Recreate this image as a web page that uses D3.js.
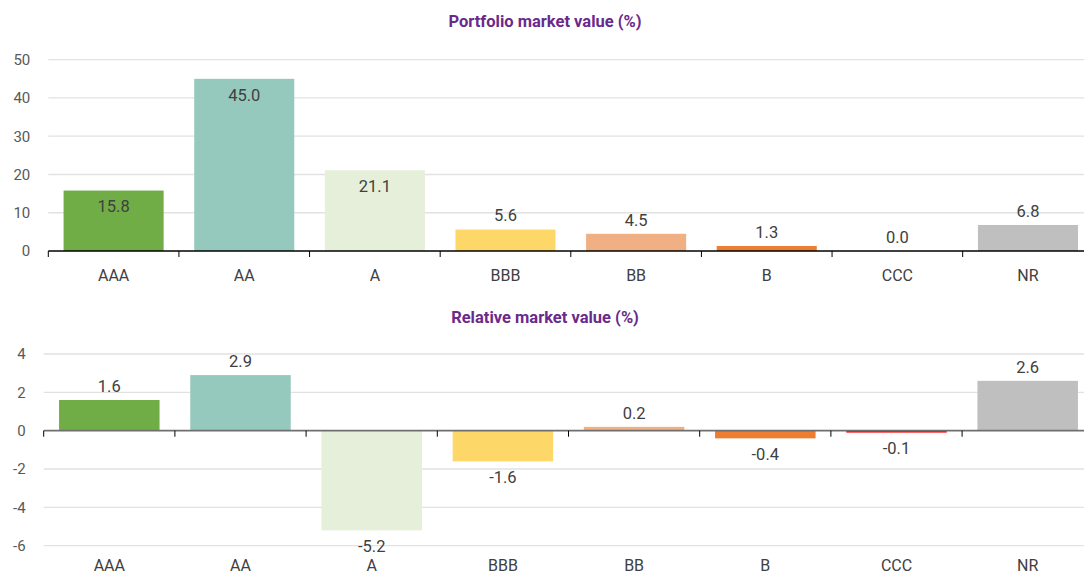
<!DOCTYPE html>
<html>
<head>
<meta charset="utf-8">
<script src="https://cdn.jsdelivr.net/npm/d3@7"></script>
<style>
  body { margin: 0; background: #fff; }
  text { font-family: Roboto, "Noto Sans", sans-serif; }
</style>
</head>
<body>
<div id="chart"></div>
<script>
const ratings = ["AAA", "AA", "A", "BBB", "BB", "B", "CCC", "NR"];
const portfolioValues = [15.8, 45.0, 21.1, 5.6, 4.5, 1.3, 0.0, 6.8];
const relativeValues = [1.6, 2.9, -5.2, -1.6, 0.2, -0.4, -0.1, 2.6];
const portfolioTicks = [0, 10, 20, 30, 40, 50];
const relativeTicks = [-6, -4, -2, 0, 2, 4];
const barColors = ["#70ad47", "#96c9be", "#e6efd9", "#fdd868", "#f0b084", "#ed7d31", "#ff0000", "#bfbfbf"];

const W = 1084, H = 576;
const svg = d3.select("#chart").append("svg")
  .attr("width", W).attr("height", H);

const color = d3.scaleOrdinal().domain(ratings).range(barColors);

function drawPanel(opts) {
  const g = svg.append("g");
  const data = ratings.map((r, i) => ({name: r, value: opts.values[i]}));

  const x = d3.scaleBand()
    .domain(ratings)
    .range([opts.left, 1093.3])
    .paddingInner(0.234)
    .paddingOuter(0.117);

  const y = d3.scaleLinear()
    .domain(opts.domain)
    .range(opts.yRange);

  // title
  g.append("text")
    .attr("x", 545).attr("y", opts.titleY)
    .attr("text-anchor", "middle")
    .style("font-size", "16.5px").style("font-weight", "bold")
    .style("fill", "#6a2a8c")
    .text(opts.title);

  // grid
  g.selectAll(".grid").data(opts.ticks.filter(t => t !== 0)).enter()
    .append("line")
    .attr("x1", opts.left).attr("x2", W)
    .attr("y1", d => y(d)).attr("y2", d => y(d))
    .attr("stroke", "#e2e2e2").attr("stroke-width", 1.3);

  // y labels (plain hyphen for negatives, like the original)
  const yAxis = g.append("g")
    .attr("transform", "translate(" + (opts.left - 18) + ",0)")
    .call(d3.axisLeft(y).tickValues(opts.ticks).tickSize(0).tickPadding(0).tickFormat(d => String(d)));
  yAxis.select(".domain").remove();
  yAxis.selectAll("text")
    .style("font-size", "15px").style("fill", "#595959")
    .style("font-family", "Roboto, sans-serif");

  // bars
  g.selectAll(".bar").data(data).enter()
    .append("rect")
    .attr("x", d => x(d.name))
    .attr("width", x.bandwidth())
    .attr("y", d => y(Math.max(0, d.value)))
    .attr("height", d => Math.abs(y(d.value) - y(0)))
    .attr("fill", d => color(d.name));

  // zero line
  g.append("line")
    .attr("x1", opts.left).attr("x2", W)
    .attr("y1", y(0)).attr("y2", y(0))
    .attr("stroke", opts.zeroColor).attr("stroke-width", opts.zeroWidth);

  // band boundary ticks
  const off = (x.step() - x.bandwidth()) / 2;
  g.selectAll(".btick").data(ratings).enter()
    .append("line")
    .attr("x1", d => x(d) - off).attr("x2", d => x(d) - off)
    .attr("y1", y(0)).attr("y2", y(0) + 6)
    .attr("stroke", "#000").attr("stroke-width", 1);

  // x labels
  g.selectAll(".xl").data(ratings).enter()
    .append("text")
    .attr("x", d => x(d) + x.bandwidth() / 2)
    .attr("y", opts.xLabelY)
    .attr("text-anchor", "middle")
    .style("font-size", "16px").style("fill", "#404040")
    .text(d => d);

  // value labels
  g.selectAll(".vl").data(data).enter()
    .append("text")
    .attr("x", d => x(d.name) + x.bandwidth() / 2)
    .attr("y", d => opts.labelY(d, y))
    .attr("dy", "0.35em")
    .attr("text-anchor", "middle")
    .style("font-size", "16.5px").style("fill", "#404040")
    .text(d => d.value.toFixed(1));
}

drawPanel({
  title: "Portfolio market value (%)",
  titleY: 27,
  values: portfolioValues,
  domain: [0, 50],
  yRange: [251, 59.7],
  ticks: portfolioTicks,
  left: 48.3,
  zeroColor: "#000",
  zeroWidth: 1.3,
  xLabelY: 281,
  labelY: (d, y) => d.value > 10 ? y(d.value) + 16 : y(d.value) - 14
});

drawPanel({
  title: "Relative market value (%)",
  titleY: 323,
  values: relativeValues,
  domain: [-6, 4],
  yRange: [545.7, 354],
  ticks: relativeTicks,
  left: 43.7,
  zeroColor: "#6f6f6f",
  zeroWidth: 1.8,
  xLabelY: 571,
  labelY: (d, y) => d.value >= 0 ? y(d.value) - 14 : y(d.value) + 16
});
</script>
</body>
</html>
